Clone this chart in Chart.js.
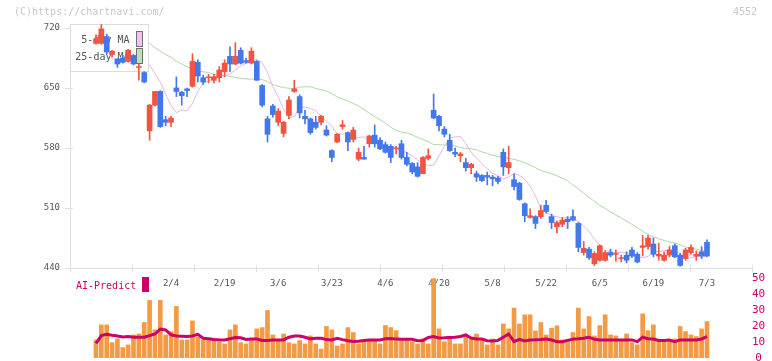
<!DOCTYPE html>
<html>
<head>
<meta charset="utf-8">
<script src="https://cdn.jsdelivr.net/npm/chart.js@4.4.1/dist/chart.umd.min.js"></script>
<style>
  body { margin: 0; background: #fff; }
  #wrap { position: relative; width: 772px; height: 361px; overflow: hidden; font-family: "DejaVu Sans Mono", monospace; }
  canvas { position: absolute; left: 0; }
  #mainChart { top: 0; }
  #volChart { top: 270px; }
  .note { position: absolute; top: 6px; font-size: 10px; line-height: 12px; color: #c8c8c8; }
  #aiLabel { position: absolute; left: 76px; top: 280px; font-size: 10px; line-height: 12px; color: #cc0066; }
  #aiBox { position: absolute; left: 142px; top: 277px; width: 7px; height: 15px; background: #cc0066; }
</style>
</head>
<body>
<div id="wrap">
  <canvas id="mainChart" width="772" height="300"></canvas>
  <canvas id="volChart" width="772" height="96"></canvas>
  <div class="note" style="left:14px">(C)https://chartnavi.com/</div>
  <div class="note" style="left:733px">4552</div>
  <div id="aiLabel">AI-Predict</div>
  <div id="aiBox"></div>
</div>
<script>
// daily candles, oldest first
const opens = [702,702,710,689,684,685,681,688,674,668, 600,630,646,613,610,650,645,649,652,680,
  662,662,659,662,669,687,678,694,682,679, 681,653,614,629,610,597,618,646,640,617,
  614,610,610,601,577,587,605,598,590,567, 569,585,595,589,584,582,579,585,569,562,
  558,550,568,624,617,602,589,575,571,563, 557,550,548,548,546,545,575,557,543,539,
  515,499,500,500,513,500,488,491,497,500, 492,458,462,445,449,449,458,456,451,455,
  461,456,464,465,468,454,449,455,466,455, 451,458,454,459,470];
const highs = [712,724,713,694,684,688,695,689,678,669, 631,646,647,617,617,663,646,650,690,683,
  665,666,666,675,683,698,703,697,685,697, 682,654,617,631,626,611,640,659,642,624,
  615,617,618,606,578,597,612,599,604,580, 582,595,607,592,587,584,582,589,575,563,
  563,570,579,643,618,605,596,580,575,568, 562,553,549,552,548,547,579,582,550,540,
  516,509,501,513,519,503,495,499,500,508, 493,471,464,459,467,460,462,461,455,459,
  464,458,478,478,475,469,459,465,468,457, 463,467,460,465,473];
const lows = [701,701,690,686,674,679,680,677,659,656, 589,629,604,606,605,640,630,640,651,657,
  654,656,656,657,663,669,677,678,679,678, 659,628,587,616,606,593,614,645,615,608,
  596,602,607,594,564,586,602,577,587,565, 567,581,581,578,574,563,573,567,559,550,
  546,550,566,614,600,593,576,570,564,553, 550,541,541,537,536,538,548,550,531,519,
  494,498,486,498,504,486,481,488,486,495, 459,455,450,443,448,448,453,448,447,446,
  452,446,454,462,453,449,448,453,452,442, 449,456,449,451,453];
const closes = [707,719,692,693,678,680,694,678,675,657, 630,646,605,610,615,646,641,647,681,664,
  657,663,663,671,679,678,687,679,680,693, 659,630,596,619,623,610,636,649,621,614,
  598,604,617,595,569,596,607,587,601,575, 567,594,585,579,575,569,580,569,561,552,
  547,569,571,615,606,596,577,573,573,557, 561,546,542,546,544,541,558,563,535,520,
  501,501,492,507,506,493,493,496,494,496, 464,463,452,457,466,458,455,457,452,449,
  454,447,466,475,456,456,455,461,453,443, 461,464,456,454,454];

const ma5 = [null,null,null,null,null,697.8,692.4,687.4,684.6,681,676.8,666.8,657.2,642.6,629.6,621.2,624.4,623.4,631.8,646,
  655.8,658,662.4,665.6,663.6,666.6,670.8,675.6,678.8,680.6,683.4,679.6,668.2,651.6,639.4,625.4,615.6,616.8,627.4,627.8,
  626,623.6,617.2,610.8,605.6,596.6,596.2,596.8,590.8,592,593.2,587.4,584.8,584.4,580,580,580.4,577.6,574.4,570.8,
  566.2,561.8,559.6,560,570.8,581.6,591.4,593,593.4,585,575.2,568.2,562,555.8,550.4,547.8,543.8,546.2,550.4,548.2,
  543.4,535.4,524,509.8,504.2,501.4,499.8,498.2,499,496.4,494.4,488.6,482.6,473.8,466.4,460.4,459.2,457.6,458.6,457.6,
  454.2,453.4,451.8,453.6,458.2,459.6,460,461.6,460.6,456.2,451,452,453.8,452.8,454.2];
const ma25 = [null,null,null,null,null,null,null,null,712,706,702,697,693,689,686,681,678,675,672,670,
  669,668,666,665,664.5,663.6,662.5,661.2,660.7,660.2,660.8,659.9,657.4,654.1,651.8,650.5,649.7,649.3,651,651.5,
  651.4,649.5,648,646.8,643.4,639.6,637.2,634.9,631.9,629.1,624.9,620.5,616.8,613,609,604.2,600.6,598.6,597.6,595.2,
  592.4,589.9,587.2,584.1,583.8,583.5,583.4,582.4,580.6,579.7,579.2,577.8,575.4,573.6,571.4,570.2,569.1,567.7,566.8,565,
  562.8,560.1,557,553.9,551.7,549.9,547.7,544.7,541.7,536.8,532.4,527.2,522.6,517.8,513.1,509.5,505.4,501.7,498.3,494.6,
  490.8,487.3,482.8,479,476.6,474,472.2,470.4,469.1,467,464.4,463.2,462,460.4,458.8];

const volumes = [11.3,20.7,20.7,9.6,11.9,6.5,8.2,14.4,15,22.2, 36,17.6,36,14.4,16.5,32.2,11.3,11.3,23.2,13,
  11.3,11.3,11.3,10.2,8.8,17.6,20.7,9.6,8.8,11.3, 18.2,19,29.7,14.4,11.3,15,9.6,8.8,10.9,8.8,
  13.8,8.8,5.6,19.7,17.6,7.5,8.8,19,15.9,8.8, 10.2,11.3,11.3,8.8,20.3,19,17.1,11.3,11.3,10.2,
  8.8,11.9,8.8,49.6,18.2,10.2,13,8.8,8.8,13, 11.9,15,10.9,8.2,11.9,8.2,21.3,18.2,31.2,21.3,
  27,27,16.9,22.2,14.4,18.6,20.1,11.3,11.3,15.9, 31.2,18.2,25.9,13.8,20.3,27,14.4,13.8,11.3,15,
  9.6,8.2,27.6,17.1,20.7,11.3,11.3,10.2,11.9,19.7, 16.5,14.4,13.4,18.2,22.8];
const aiPredict = [9.2,14,14.8,14.2,13.8,13.2,13.4,13,13,13, 14,15,18,17.5,14.5,13.8,13.6,13.4,13.8,14.8,
  12.3,12,11.6,11.4,11.3,12,12.8,12.6,11.6,11.9, 11.9,10.9,10.9,11.3,11.3,11.3,13,13.8,13.8,13,
  11.9,12.3,12.3,11.5,11.3,12.3,11.5,10.8,10.3,10.5, 11,11.3,11.3,11.3,12,12.2,11.8,11.7,11.7,11.7,
  10.8,11,12.8,13.4,12.5,12.6,12.8,13,13.4,14.4, 12.5,11.9,11.9,10.8,10.7,11,13,15,10.2,11.7,
  10.7,11.3,11.4,11.6,11.9,11.3,10.2,10.2,11,11.8, 12,12.3,13,11.7,11.3,11.3,11.3,11.3,11.3,11.3,
  11.3,10.2,13,12,11.9,11,11,11.2,10.2,11.3, 11.3,11.3,11.3,11.9,13.4];

const dateIdx = [14, 24, 34, 44, 54, 64, 74, 84, 94, 104, 114];
const dateLabels = ['2/4', '2/19', '3/6', '3/23', '4/6', '4/20', '5/8', '5/22', '6/5', '6/19', '7/3'];
const priceTicks = [440, 510, 580, 650, 720];
const volTicks = [0, 10, 20, 30, 40, 50];

const xMin = -4.85, xMax = 122.4;
const UP = '#f25441', DOWN = '#4377ec';
const mono = 'DejaVu Sans Mono';

const candleColors = opens.map((o, i) => closes[i] >= o ? UP : DOWN);
const wicks = opens.map((o, i) => ({ x: i, y: [lows[i], highs[i]] }));
const bodies = opens.map((o, i) => ({ x: i, y: [o, closes[i]] }));
const pts = arr => arr.map((v, i) => ({ x: i, y: v }));

// axis line, tick marks and the MA legend box
const priceDeco = {
  id: 'priceDeco',
  beforeDatasetsDraw(chart) {
    const { ctx, chartArea: { left, right, top, bottom }, scales: { y } } = chart;
    ctx.save();
    ctx.strokeStyle = '#e0e0e0';
    ctx.lineWidth = 1;
    ctx.beginPath();
    ctx.moveTo(left + 0.5, top);
    ctx.lineTo(left + 0.5, bottom);
    ctx.moveTo(left, bottom + 0.5);
    ctx.lineTo(right, bottom + 0.5);
    priceTicks.forEach(v => {
      const py = Math.round(y.getPixelForValue(v)) + 0.5;
      ctx.moveTo(left - 5, py);
      ctx.lineTo(left + 3, py);
    });
    for (let k = 0; k <= 11; k++) {
      const px = Math.round(left + k * (right - left) / 11) + 0.5;
      ctx.moveTo(px, bottom - 3);
      ctx.lineTo(px, bottom + 4);
    }
    ctx.stroke();
    ctx.restore();
  },
  beforeDatasetDraw(chart, args) {
    if (args.index !== 2) return;
    const { ctx, chartArea: { left, top } } = chart;
    ctx.save();
    ctx.fillStyle = '#fff';
    ctx.strokeStyle = '#dcdcdc';
    ctx.fillRect(left + 0.5, top + 0.5, 78, 47);
    ctx.strokeRect(left + 0.5, top + 0.5, 78, 47);
    ctx.font = '10px "' + mono + '"';
    ctx.fillStyle = '#555';
    ctx.textAlign = 'right';
    ctx.textBaseline = 'middle';
    ctx.fillText('5-day MA', left + 59.5, top + 16);
    ctx.fillText('25-day MA', left + 59.5, top + 33);
    ctx.strokeStyle = '#707070';
    ctx.fillStyle = '#f0c2f0';
    ctx.fillRect(left + 66.5, top + 7.5, 6, 15);
    ctx.strokeRect(left + 66.5, top + 7.5, 6, 15);
    ctx.fillStyle = '#bde2ae';
    ctx.fillRect(left + 66.5, top + 24.5, 6, 15);
    ctx.strokeRect(left + 66.5, top + 24.5, 6, 15);
    ctx.restore();
  }
};

new Chart(document.getElementById('mainChart'), {
  type: 'bar',
  data: {
    datasets: [
      { type: 'line', data: pts(ma25), borderColor: '#aed9a2', borderWidth: 1, pointRadius: 0, order: 4 },
      { type: 'line', data: pts(ma5), borderColor: '#e6b4ea', borderWidth: 1, pointRadius: 0, order: 3 },
      { data: wicks, backgroundColor: candleColors, barThickness: 1, grouped: false, order: 2 },
      { data: bodies, backgroundColor: candleColors, barThickness: 5, grouped: false, order: 1 }
    ]
  },
  options: {
    responsive: false,
    animation: false,
    devicePixelRatio: 1,
    layout: { padding: { left: 0, right: 20, top: 24, bottom: 0 } },
    plugins: { legend: { display: false }, tooltip: { enabled: false } },
    scales: {
      x: {
        type: 'linear', min: xMin, max: xMax, offset: false,
        afterBuildTicks: s => { s.ticks = dateIdx.map(v => ({ value: v })); },
        afterFit: s => { s.height = 32; },
        grid: { display: false, drawTicks: false }, border: { display: false },
        ticks: {
          autoSkip: false, maxRotation: 0, padding: 10, color: '#555',
          font: { family: mono, size: 9 },
          callback: (v, i) => dateLabels[i]
        }
      },
      y: {
        type: 'linear', position: 'left', min: 440, max: 724.67,
        afterBuildTicks: s => { s.ticks = priceTicks.map(v => ({ value: v })); },
        afterFit: s => { s.width = 70; },
        grid: { display: false, drawTicks: false }, border: { display: false },
        ticks: { autoSkip: false, padding: 10, color: '#555', font: { family: mono, size: 9 } }
      }
    }
  },
  plugins: [priceDeco]
});

new Chart(document.getElementById('volChart'), {
  type: 'bar',
  data: {
    datasets: [
      { type: 'line', data: pts(aiPredict), borderColor: '#cc0066', borderWidth: 3, pointRadius: 0, order: 1 },
      { data: pts(volumes), backgroundColor: '#f39a44', barThickness: 4, grouped: false, order: 2 }
    ]
  },
  options: {
    responsive: false,
    animation: false,
    devicePixelRatio: 1,
    layout: { padding: { left: 70, right: 0, top: 8, bottom: 8 } },
    plugins: { legend: { display: false }, tooltip: { enabled: false } },
    scales: {
      x: { type: 'linear', min: xMin, max: xMax, offset: false, display: false },
      y: {
        position: 'right', min: 0, max: 50,
        afterBuildTicks: s => { s.ticks = volTicks.map(v => ({ value: v })); },
        afterFit: s => { s.width = 20; },
        grid: { display: false, drawTicks: false }, border: { display: false },
        ticks: { autoSkip: false, padding: 0, crossAlign: 'center', color: '#cc0066', font: { family: mono, size: 11 } }
      }
    }
  }
});
</script>
</body>
</html>
